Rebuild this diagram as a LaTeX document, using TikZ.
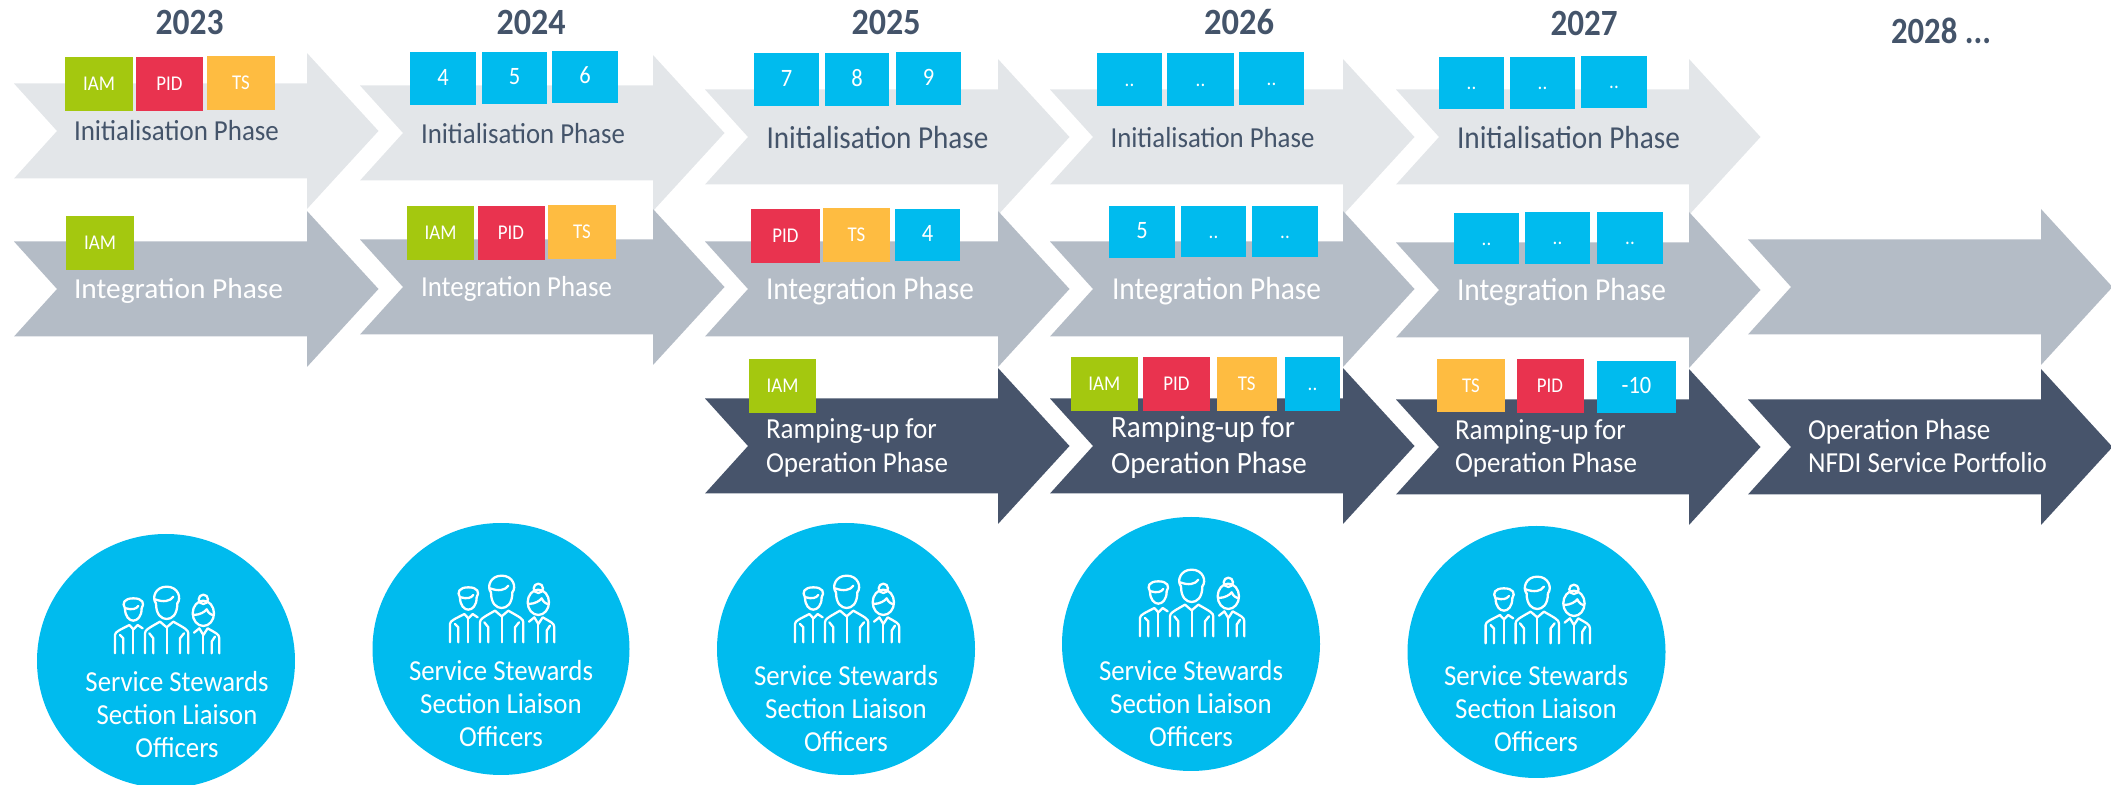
\documentclass[tikz,border=0pt]{standalone}
\usepackage{graphicx}
\usepackage{fontspec}
\setmainfont{Carlito}
\usetikzlibrary{shapes.geometric}
\definecolor{initc}{HTML}{E3E6E9}
\definecolor{integc}{HTML}{B4BCC6}
\definecolor{rampc}{HTML}{47546B}
\definecolor{bluec}{HTML}{00BBEE}
\definecolor{greenc}{HTML}{A4C80F}
\definecolor{redc}{HTML}{E9334F}
\definecolor{yellowc}{HTML}{FEBC41}
\definecolor{darkc}{HTML}{44546A}
\tikzset{
  tagbox/.style={inner sep=0pt,outer sep=0pt,text=white,font=\fontsize{10.5}{12}\selectfont,text height=6.6pt,text depth=0pt,align=center},
  plainlabel/.style={inner sep=0pt,outer sep=0pt},
  ring/.style={ellipse,inner sep=0pt,outer sep=0pt,fill=bluec},
  iconline/.style={draw=white,line width=1.15pt,line cap=round,line join=round},
}
% left x, tip y, colour
\newcommand\chevshape[3]{%
  \fill[#3] (#1,#2-47.5) -- (#1+293,#2-47.5) -- (#1+293,#2-78) -- (#1+364.5,#2) -- (#1+293,#2+78) -- (#1+293,#2+47.5) -- (#1,#2+47.5) -- (#1+43,#2) -- cycle;}
% name, x0,y0,x1,y1, colour, text
\newcommand\tagnode[7]{%
  \pgfmathsetmacro\tw{(#4-#2)*0.5}\pgfmathsetmacro\th{(#5-#3)*0.5}%
  \node[tagbox,fill=#6,minimum width=\tw pt,minimum height=\th pt] (#1) at ({(#2+#4)/2},{(#3+#5)/2}) {\scalebox{0.9}[1]{#7}};}
\newcommand\nm[1]{{\fontsize{12.5}{13}\selectfont #1}}
% name, x,y, width px, size, leading, colour, text: left aligned
\newcommand\lefttext[8]{%
  \pgfmathsetmacro\tw{#4*0.5}%
  \node[plainlabel,anchor=base west,text=#7] (#1) at (#2,#3+1) {\resizebox{\tw pt}{\height}{\fontsize{#5}{#6}\selectfont\begin{tabular}[t]{@{}l@{}}#8\end{tabular}}};}
% name, x,y, width px, size, leading, colour, text: centred
\newcommand\midtext[8]{%
  \pgfmathsetmacro\tw{#4*0.5}%
  \node[plainlabel,anchor=base,text=#7] (#1) at (#2,#3+1) {\resizebox{\tw pt}{\height}{\fontsize{#5}{#6}\selectfont\begin{tabular}[t]{@{}c@{}}#8\end{tabular}}};}
% centre x, bottom y
\newcommand\peopleicon[2]{%
  \begin{scope}[shift={(#1-67,#2-84)},x=0.16667pt,y=-0.16667pt,iconline]
    % centre person
    \draw (168,100) .. controls (168,135) and (185,147) .. (200,147) .. controls (215,147) and (232,135) .. (232,100);
    \draw (168,100) .. controls (155,85) and (165,50) .. (200,50) .. controls (235,50) and (245,85) .. (232,100);
    \draw (165,88) .. controls (190,97) and (210,95) .. (220,80);
    \draw (135,250) -- (135,190) .. controls (135,180) and (145,175) .. (180,155) -- (200,172) -- (220,155) .. controls (255,175) and (265,180) .. (265,190) -- (265,250);
    \draw (200,172) -- (200,250);
    \draw (160,250) -- (160,205) -- (148,190);
    \draw (240,250) -- (240,205) -- (252,190);
    % left person
    \draw (75,115) .. controls (75,140) and (88,152) .. (100,152) .. controls (112,152) and (125,140) .. (125,115);
    \draw (75,115) .. controls (65,100) and (72,85) .. (100,85) .. controls (128,85) and (135,100) .. (125,115);
    \draw (78,115) .. controls (95,120) and (108,118) .. (115,108);
    \draw (45,250) -- (45,195) .. controls (45,185) and (60,180) .. (88,165) -- (100,178) -- (113,165) -- (128,175);
    \draw (100,178) -- (100,250);
    \draw (70,250) -- (70,205) -- (60,195);
    % right person
    \draw (310,88) circle[x radius=14,y radius=14];
    \draw (310,130) circle[x radius=32,y radius=38];
    \draw (280,135) .. controls (300,135) and (315,125) .. (320,118) .. controls (325,130) and (335,135) .. (340,135);
    \draw (282,188) -- (298,175) -- (310,195) -- (323,175) .. controls (345,188) and (358,192) .. (358,205) -- (358,250);
    \draw (310,195) -- (310,250);
    \draw (335,250) -- (335,215) -- (345,200);
  \end{scope}}
\begin{document}
\begin{tikzpicture}[x=0.5pt,y=-0.5pt]
\path[use as bounding box,clip] (0,0) rectangle (2111,785);
% arrows
\chevshape{14}{131}{initc}
\chevshape{360}{133}{initc}
\chevshape{705}{137}{initc}
\chevshape{1050}{137}{initc}
\chevshape{1396}{137}{initc}
\chevshape{14}{289}{integc}
\chevshape{360}{287}{integc}
\chevshape{705}{289}{integc}
\chevshape{1050}{289}{integc}
\chevshape{1396}{290}{integc}
\chevshape{1748}{287}{integc}
\chevshape{705}{446}{rampc}
\chevshape{1050}{446}{rampc}
\chevshape{1396}{447}{rampc}
\chevshape{1748}{447}{rampc}
% years
\midtext{y23}{189.5}{34}{68}{18.5}{22}{darkc}{\textbf{2023}}
\midtext{y24}{531}{34}{69}{18.5}{22}{darkc}{\textbf{2024}}
\midtext{y25}{886}{34}{69}{18.5}{22}{darkc}{\textbf{2025}}
\midtext{y26}{1239}{34}{70}{18.5}{22}{darkc}{\textbf{2026}}
\midtext{y27}{1584}{35}{67}{18.5}{22}{darkc}{\textbf{2027}}
\midtext{y28}{1941}{43}{100}{18.5}{22}{darkc}{\textbf{2028 ...}}
% tags
\tagnode{a1}{65}{57}{133}{111}{greenc}{IAM}
\tagnode{a2}{136}{57}{203}{111}{redc}{PID}
\tagnode{a3}{207}{56}{275}{110}{yellowc}{TS}
\tagnode{b1}{66}{216}{134}{270}{greenc}{IAM}
\tagnode{c1}{410}{52}{476}{105}{bluec}{\nm{4}}
\tagnode{c2}{482}{52}{547}{104}{bluec}{\nm{5}}
\tagnode{c3}{552}{51}{618}{103}{bluec}{\nm{6}}
\tagnode{d1}{407}{206}{474}{260}{greenc}{IAM}
\tagnode{d2}{477.5}{206}{544.5}{260}{redc}{PID}
\tagnode{d3}{548}{205}{616}{259}{yellowc}{TS}
\tagnode{e1}{754}{53}{819}{106}{bluec}{\nm{7}}
\tagnode{e2}{825}{53}{889}{106}{bluec}{\nm{8}}
\tagnode{e3}{896}{52}{961}{105}{bluec}{\nm{9}}
\tagnode{f1}{751}{209}{820}{263}{redc}{PID}
\tagnode{f2}{823}{208}{890}{262}{yellowc}{TS}
\tagnode{f3}{895}{209}{960}{261}{bluec}{\nm{4}}
\tagnode{g1}{749}{359}{816}{413}{greenc}{IAM}
\tagnode{h1}{1097}{53}{1162}{106}{bluec}{..}
\tagnode{h2}{1167}{53}{1234}{106}{bluec}{..}
\tagnode{h3}{1239}{52}{1304}{105}{bluec}{..}
\tagnode{i1}{1109}{206}{1175}{258}{bluec}{\nm{5}}
\tagnode{i2}{1181}{206}{1246}{257}{bluec}{..}
\tagnode{i3}{1252}{206}{1318}{257}{bluec}{..}
\tagnode{j1}{1070.5}{357}{1138}{411}{greenc}{IAM}
\tagnode{j2}{1143}{357}{1210}{411}{redc}{PID}
\tagnode{j3}{1216.5}{357}{1277}{411}{yellowc}{TS}
\tagnode{j4}{1285}{357}{1340}{411}{bluec}{..}
\tagnode{k1}{1439}{57}{1504}{109}{bluec}{..}
\tagnode{k2}{1510}{57}{1575}{109}{bluec}{..}
\tagnode{k3}{1581}{56}{1647}{108}{bluec}{..}
\tagnode{l1}{1454}{213}{1519}{264}{bluec}{..}
\tagnode{l2}{1525}{212}{1590}{264}{bluec}{..}
\tagnode{l3}{1597}{212}{1663}{264}{bluec}{..}
\tagnode{m1}{1437}{359}{1505}{412}{yellowc}{TS}
\tagnode{m2}{1516.5}{359}{1583.5}{413}{redc}{PID}
\tagnode{m3}{1597}{361}{1676}{413}{bluec}{\nm{-10}}
% phase labels
\lefttext{p1}{74}{140}{205}{14.5}{16.5}{darkc}{Initialisation Phase}
\lefttext{p2}{421}{143}{204}{14.5}{16.5}{darkc}{Initialisation Phase}
\lefttext{p3}{766.5}{148}{222}{16}{18}{darkc}{Initialisation Phase}
\lefttext{p4}{1110.5}{147}{204}{14.5}{16.5}{darkc}{Initialisation Phase}
\lefttext{p5}{1457}{148}{223}{16}{18}{darkc}{Initialisation Phase}
\lefttext{q1}{74}{298}{209}{14.5}{16.5}{white}{Integration Phase}
\lefttext{q2}{421}{296}{191}{14.5}{16.5}{white}{Integration Phase}
\lefttext{q3}{766}{299}{208}{16}{18}{white}{Integration Phase}
\lefttext{q4}{1112}{299}{209}{16}{18}{white}{Integration Phase}
\lefttext{q5}{1457}{300}{209}{16}{18}{white}{Integration Phase}
\lefttext{r3}{766}{438}{182}{14.5}{17}{white}{Ramping-up for\\Operation Phase}
\lefttext{r4}{1111}{437}{196}{15.5}{18}{white}{Ramping-up for\\Operation Phase}
\lefttext{r5}{1455}{439}{182}{14.5}{16.5}{white}{Ramping-up for\\Operation Phase}
\lefttext{r6}{1808}{439}{239}{14.5}{16.5}{white}{Operation Phase\\NFDI Service Portfolio}
% circles
\node[ring,minimum width=129pt,minimum height=127pt] (s1) at (166,661) {};
\node[ring,minimum width=128.5pt,minimum height=126pt] (s2) at (501,649) {};
\node[ring,minimum width=129pt,minimum height=126pt] (s3) at (846,649) {};
\node[ring,minimum width=129pt,minimum height=127pt] (s4) at (1191,644) {};
\node[ring,minimum width=129pt,minimum height=126pt] (s5) at (1536.5,652) {};
\peopleicon{167}{654}
\peopleicon{502}{643}
\peopleicon{847}{643}
\peopleicon{1192}{637}
\peopleicon{1537.6}{644}
\midtext{t1}{177}{691}{183}{14.5}{16.3}{white}{Service Stewards\\Section Liaison\\Officers}
\midtext{t2}{501}{680}{184}{14.5}{16.3}{white}{Service Stewards\\Section Liaison\\Officers}
\midtext{t3}{846}{685}{184}{14.5}{16.3}{white}{Service Stewards\\Section Liaison\\Officers}
\midtext{t4}{1191}{680}{184}{14.5}{16.3}{white}{Service Stewards\\Section Liaison\\Officers}
\midtext{t5}{1536}{685}{184}{14.5}{16.3}{white}{Service Stewards\\Section Liaison\\Officers}
\end{tikzpicture}
\end{document}
